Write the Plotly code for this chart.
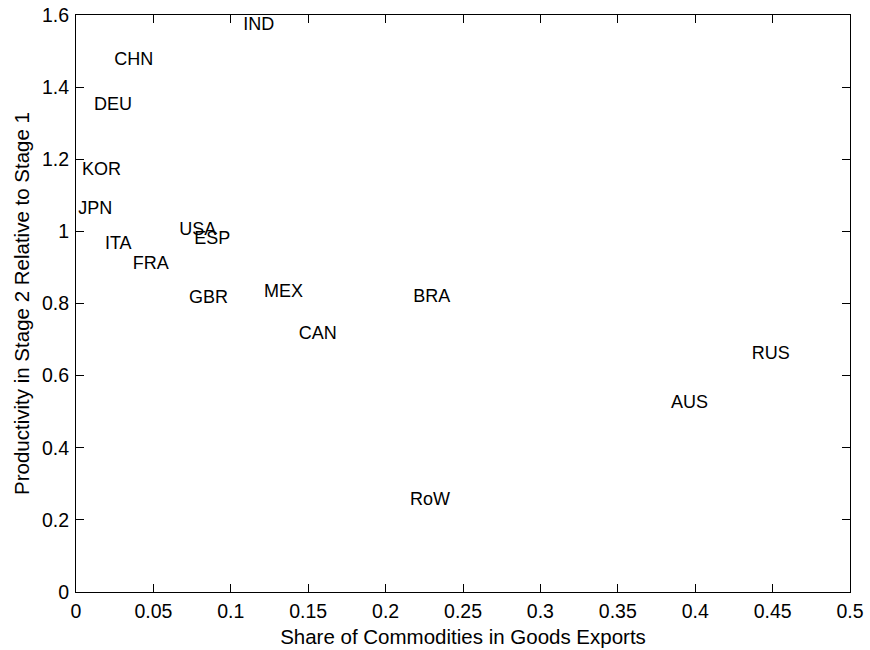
import plotly.graph_objects as go

countries = ["IND", "CHN", "DEU", "KOR", "JPN", "ITA", "USA", "ESP", "FRA",
             "GBR", "MEX", "CAN", "BRA", "RoW", "RUS", "AUS"]
commodity_share = [0.108, 0.0247, 0.0116, 0.0039, 0.0015, 0.0187, 0.0667, 0.0764, 0.0366,
                   0.073, 0.1214, 0.1439, 0.2179, 0.2158, 0.4365, 0.3844]
productivity = [1.572, 1.473, 1.348, 1.170, 1.062, 0.965, 1.002, 0.978, 0.907,
                0.814, 0.830, 0.715, 0.817, 0.255, 0.659, 0.523]

x_ticks = [0, 0.05, 0.1, 0.15, 0.2, 0.25, 0.3, 0.35, 0.4, 0.45, 0.5]
x_tick_labels = ["0", "0.05", "0.1", "0.15", "0.2", "0.25", "0.3", "0.35", "0.4", "0.45", "0.5"]
y_ticks = [0, 0.2, 0.4, 0.6, 0.8, 1.0, 1.2, 1.4, 1.6]
y_tick_labels = ["0", "0.2", "0.4", "0.6", "0.8", "1", "1.2", "1.4", "1.6"]

FONT = "Liberation Sans, Arial, Helvetica, sans-serif"

fig = go.Figure()
fig.add_trace(go.Scatter(
    x=commodity_share, y=productivity, text=countries,
    mode="text", textposition="middle right",
    marker=dict(size=1),
    textfont=dict(family=FONT, size=18, color="black"),
    hoverinfo="skip", showlegend=False,
))

axis_common = dict(
    showgrid=False, zeroline=False, showline=True, linecolor="black", linewidth=1,
    mirror="ticks", ticks="inside", ticklen=8, tickwidth=1, tickcolor="black",
    tickfont=dict(family=FONT, size=19.5, color="black"), automargin=False,
)

fig.update_layout(
    width=870, height=650,
    margin=dict(l=76, r=20, t=15, b=58),
    paper_bgcolor="white", plot_bgcolor="white",
    font=dict(family=FONT, size=18, color="black"),
    xaxis=dict(range=[0, 0.5], tickvals=x_ticks, ticktext=x_tick_labels,
               title=dict(text="Share of Commodities in Goods Exports", standoff=8,
                          font=dict(family=FONT, size=20.5, color="black")),
               ticklabelstandoff=2, **axis_common),
    yaxis=dict(range=[0, 1.6], tickvals=y_ticks, ticktext=y_tick_labels,
               title=dict(text="Productivity in Stage 2 Relative to Stage 1", standoff=6,
                          font=dict(family=FONT, size=20.5, color="black")),
               ticklabelstandoff=2, **axis_common),
)

fig.write_html(
    "out.html",
    config={"displayModeBar": False},
    post_script="document.body.style.margin='0';document.body.style.overflow='hidden';",
)
